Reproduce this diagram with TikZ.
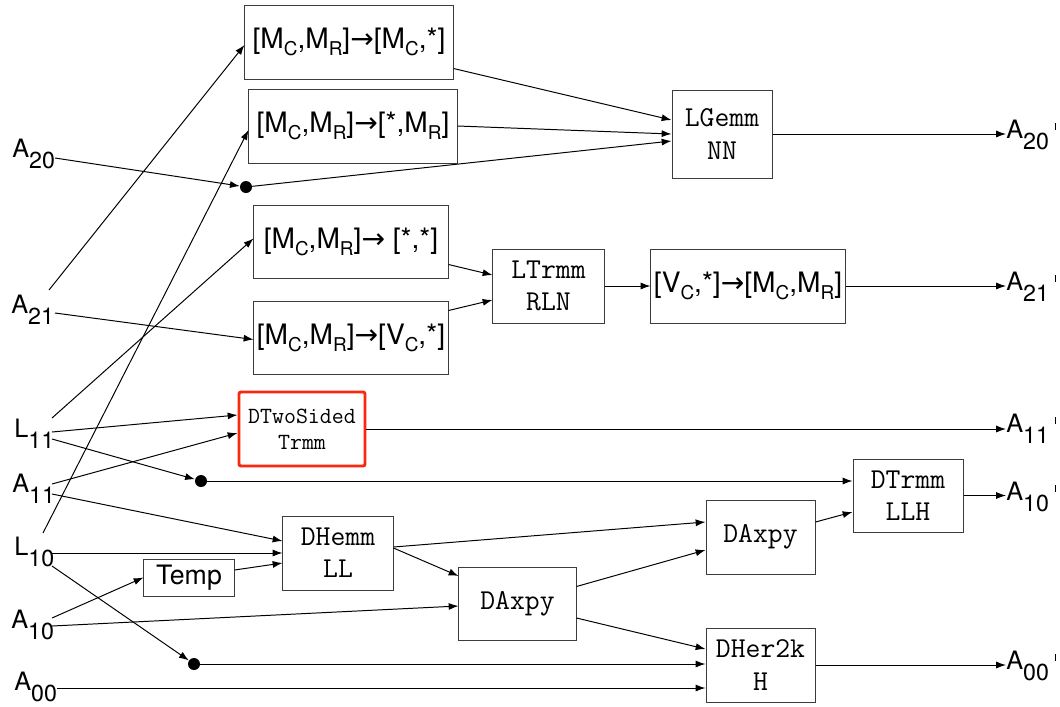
\documentclass[tikz,border=0pt]{standalone}
\usepackage{fontspec}
\setmainfont{TeX Gyre Heros}
\newfontfamily\arrowfont{DejaVu Sans}
\usetikzlibrary{arrows.meta,calc}
\definecolor{hotcol}{RGB}{250,40,15}
\definecolor{boxcol}{RGB}{60,60,60}
\tikzset{
  % data flow edge
  flow/.style={-{Latex[length=7pt,width=5pt]}, line width=0.7pt},
  % redistribution box
  redist/.style={rectangle, draw=boxcol, line width=0.7pt, minimum width=4.85cm, minimum height=1.85cm,
               inner sep=2pt, font=\fontsize{20}{23}\selectfont},
  % kernel box
  kbox/.style={rectangle, draw=boxcol, line width=0.7pt, minimum width=2.75cm, minimum height=1.85cm,
               inner sep=2pt, align=center, font=\fontsize{20.5}{23}\selectfont\ttfamily},
  % highlighted kernel
  hotbox/.style={kbox, draw=hotcol, line width=2.1pt, rounded corners=1.5pt,
               font=\fontsize{16.5}{18.5}\selectfont\ttfamily},
  % join point
  joint/.style={circle, fill=black, inner sep=0pt, minimum size=0.3cm},
  % matrix block label
  blk/.style={inner sep=0pt, font=\fontsize{18}{18}\selectfont},
}
\newcommand{\dsub}[1]{\raisebox{-5pt}{\fontsize{13.5}{13.5}\selectfont #1}}
\newcommand{\toarr}{{\arrowfont\fontsize{20}{20}\selectfont →}}
\newcommand{\blkname}[2]{#1\raisebox{-8pt}{\fontsize{16.5}{16.5}\selectfont #2}}
\newcommand{\blkout}[2]{\blkname{#1}{#2}\hspace{4pt}\raisebox{6pt}{\rule{0.7pt}{5pt}}}

\begin{document}
\begin{tikzpicture}[x=0.025cm, y=-0.025cm]
  \useasboundingbox (0,0) rectangle (1060,706);

  % ── input blocks ──
  \node[blk, anchor=base west] (a20) at (12,157) {\blkname{A}{20}};
  \node[blk, anchor=base west] (a21) at (11,313) {\blkname{A}{21}};
  \node[blk, anchor=base west] (l11) at (14,437) {\blkname{L}{11}};
  \node[blk, anchor=base west] (a11) at (12,492) {\blkname{A}{11}};
  \node[blk, anchor=base west] (l10) at (14,555) {\blkname{L}{10}};
  \node[blk, anchor=base west] (a10) at (11,628) {\blkname{A}{10}};
  \node[blk, anchor=base west] (a00) at (14,690) {\blkname{A}{00}};

  \coordinate (a20r) at (55,158);
  \coordinate (a21up) at (49,290);
  \coordinate (a21r) at (55,313);
  \coordinate (l11up) at (52,418);
  \coordinate (l11a) at (52,432);
  \coordinate (l11b) at (52,439);
  \coordinate (a11a) at (52,484);
  \coordinate (a11b) at (52,494);
  \coordinate (l10up) at (43,533);
  \coordinate (l10a) at (52,553);
  \coordinate (l10b) at (52,566);
  \coordinate (a10a) at (52,618);
  \coordinate (a10b) at (52,626);
  \coordinate (a00r) at (57,688);

  % ── output blocks ──
  \node[blk, anchor=base west] (o20) at (1006,138) {\blkout{A}{20}};
  \node[blk, anchor=base west] (o21) at (1006,290) {\blkout{A}{21}};
  \node[blk, anchor=base west] (o11) at (1006,432) {\blkout{A}{11}};
  \node[blk, anchor=base west] (o10) at (1006,500) {\blkout{A}{10}};
  \node[blk, anchor=base west] (o00) at (1006,669) {\blkout{A}{00}};

  % ── redistributions ──
  \node[redist, minimum width=5.2cm] (r1) at (349,42) {[M\dsub{C},M\dsub{R}]\toarr[M\dsub{C},*]};
  \node[redist, minimum width=5.2cm] (r2) at (353,126) {[M\dsub{C},M\dsub{R}]\toarr[*,M\dsub{R}]};
  \node[redist, minimum height=1.825cm] (r3) at (351,241.5) {[M\dsub{C},M\dsub{R}]\toarr\ [*,*]};
  \node[redist, minimum height=1.825cm] (r4) at (351,337.5) {[M\dsub{C},M\dsub{R}]\toarr[V\dsub{C},*]};
  \node[redist] (r5) at (748,286) {[V\dsub{C},*]\toarr[M\dsub{C},M\dsub{R}]};

  % ── kernels ──
  \node[kbox, minimum width=2.5cm, minimum height=2.2cm] (gemm) at (722,134) {LGemm\\NN};
  \node[kbox, minimum width=2.775cm] (trmm) at (548.5,286) {LTrmm\\RLN};
  \node[hotbox, minimum width=3.15cm] (twos) at (302,429) {DTwoSided\\Trmm};
  \node[kbox] (hemm) at (338,553) {DHemm\\LL};
  \node[redist, minimum width=2.25cm, minimum height=0.925cm, font=\fontsize{19}{21}\selectfont] (temp) at (189,577.5) {Temp};
  \node[kbox, minimum width=2.925cm, minimum height=1.825cm] (axpyA) at (517.5,603.5) {DAxpy};
  \node[kbox, minimum width=2.725cm] (axpyB) at (760.5,537) {DAxpy};
  \node[kbox, minimum height=1.825cm] (tlh) at (908,495.5) {DTrmm\\LLH};
  \node[kbox, minimum width=2.725cm] (her) at (760.5,665) {DHer2k\\H};

  \node[joint] (j1) at (246,187) {};
  \node[joint] (j2) at (201,481) {};
  \node[joint] (j3) at (194,664) {};

  % top: LGemm
  \draw[flow] (a21up) -- ($(r1.west)+(0,3)$);
  \draw[flow] (l10up) -- ($(r2.west)+(0,4)$);
  \draw[flow] (a20r) -- (j1);
  \draw[flow] ($(r1.south east)+(0,-11)$) -- ($(gemm.west)+(0,-14)$);
  \draw[flow] (r2.east) -- (gemm.west);
  \draw[flow] (j1) -- ($(gemm.west)+(0,7)$);
  \draw[flow] (gemm.east) -- (gemm.east -| o20.west);

  % LTrmm
  \draw[flow] (l11up) -- ($(r3.west)+(0,-3)$);
  \draw[flow] (a21r) -- ($(r4.west)+(0,2)$);
  \draw[flow] ($(r3.south east)+(0,-14)$) -- ($(trmm.west)+(0,-11)$);
  \draw[flow] ($(r4.north east)+(0,10)$) -- ($(trmm.west)+(0,14)$);
  \draw[flow] (trmm) -- (r5);
  \draw[flow] (r5.east) -- (r5.east -| o21.west);

  % DTwoSidedTrmm
  \draw[flow] (l11a) -- ($(twos.west)+(0,-14)$);
  \draw[flow] (a11a) -- ($(twos.west)+(0,4)$);
  \draw[flow] (twos.east) -- (twos.east -| o11.west);

  % lower part
  \draw[flow] (l11b) -- (j2);
  \draw[flow] (j2) -- (j2 -| tlh.west);
  \draw[flow] (a11b) -- ($(hemm.west)+(0,-12)$);
  \draw[flow] (l10a) -- (l10a -| hemm.west);
  \draw[flow] (l10b) -- (j3);
  \draw[flow] (a10a) -- (temp.west);
  \draw[flow] ($(temp.east)+(0,-7.5)$) -- ($(hemm.west)+(0,10)$);
  \draw[flow] (a10b) -- ($(axpyA.west)+(0,2.5)$);
  \draw[flow] ($(hemm.east)+(0,-6)$) -- ($(axpyB.west)+(0,-15)$);
  \draw[flow] ($(hemm.east)+(0,-5)$) -- ($(axpyA.west)+(0,-27.5)$);
  \draw[flow] ($(axpyA.east)+(0,-17)$) -- ($(axpyB.west)+(0,13)$);
  \draw[flow] ($(axpyA.east)+(0,14.5)$) -- ($(her.west)+(0,-16)$);
  \draw[flow] ($(axpyB.east)+(0,-15)$) -- ($(tlh.west)+(0,16.5)$);
  \draw[flow] (j3) -- (j3 -| her.west);
  \draw[flow] (a00r) -- (a00r -| her.west);
  \draw[flow] (tlh.east) -- (tlh.east -| o10.west);
  \draw[flow] (her.east) -- (her.east -| o00.west);

\end{tikzpicture}
\end{document}
